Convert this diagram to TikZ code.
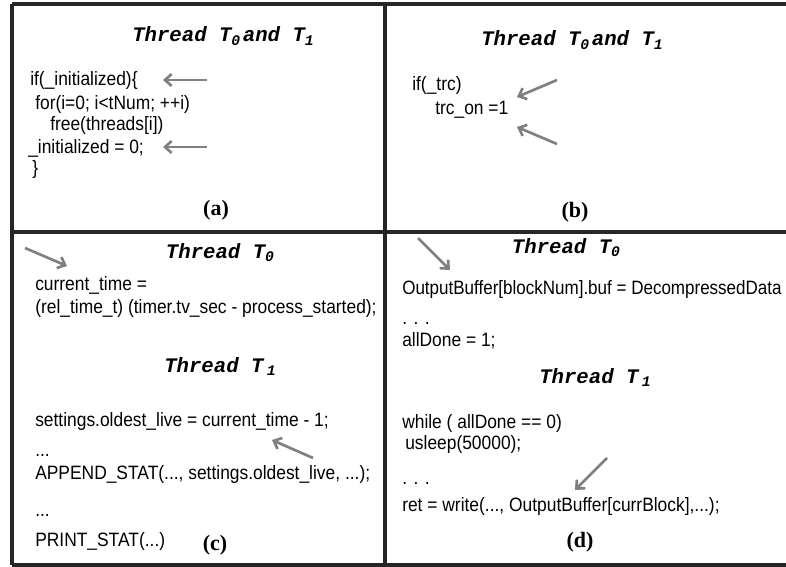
\documentclass[tikz,border=0pt]{standalone}
\usepackage{fontspec}
\setmainfont{Liberation Sans}[FakeStretch=0.9]
\newfontfamily\headfont{Liberation Mono}
\newfontfamily\labelfont{Liberation Serif}
\newfontfamily\narrowfont{Liberation Sans}[FakeStretch=0.88]
\usetikzlibrary{arrows.meta}

\newcommand{\tsub}[1]{\raisebox{-0.35ex}{\fontsize{11}{11}\selectfont #1}}

\begin{document}
\begin{tikzpicture}[x=0.75pt, y=-0.75pt,
  frame/.style={line width=2.3pt, draw=black!85},
  code/.style={anchor=base west, inner sep=0pt, font=\fontsize{14.5}{16}\selectfont},
  head/.style={anchor=base, inner sep=0pt, font=\headfont\bfseries\itshape\fontsize{15.5}{16}\selectfont},
  tag/.style={inner sep=0pt, font=\labelfont\bfseries\fontsize{16.5}{17}\selectfont},
  pointer/.style={draw=black!50, line width=2pt, -{Straight Barb[length=5pt,width=9pt]}}]
        \useasboundingbox (0,0) rectangle (786,567);
        % frame
        \draw[frame] (12,4) -- (786,4);
        \draw[frame] (12,232) -- (786,232);
        \draw[frame] (12,565) -- (786,565);
        \draw[frame] (12,4) -- (12,565);
        \draw[frame] (385,4) -- (385,565);

        % (a)
        \node[head] (ha)  at (223,42)  {Thread T\tsub{0}\hspace{2pt}and T\tsub{1}};
        \node[code] (a1)  at (30,86)   {if(\_initialized)\{};
        \node[code] (a2)  at (35,109)  {for(i=0; i<tNum; ++i)};
        \node[code] (a3)  at (50,131)  {free(threads[i])};
        \node[code] (a4)  at (28,153)  {\_initialized = 0;};
        \node[code] (a5)  at (32,174)  {\}};
        \node[tag]  (la)  at (216,210) {(a)};

        % (b)
        \node[head] (hb)  at (572,46)  {Thread T\tsub{0}\hspace{2pt}and T\tsub{1}};
        \node[code] (b1)  at (412,91)  {if(\_trc)};
        \node[code] (b2)  at (435,114) {trc\_on =1};
        \node[tag]  (lb)  at (575,212) {(b)};

        % (c)
        \node[head] (hc0) at (220,258) {Thread T\tsub{0}};
        \node[code] (c1)  at (35,290)  {current\_time =};
        \node[code] (c2)  at (35,313)  {(rel\_time\_t) (timer.tv\_sec - process\_started);};
        \node[head] (hc1) at (220,372) {Thread T\,\tsub{1}};
        \node[code] (c3)  at (35,426)  {settings.oldest\_live = current\_time - 1;};
        \node[code] (c4)  at (35,456)  {...};
        \node[code] (c5)  at (35,479)  {APPEND\_STAT(..., settings.oldest\_live, ...);};
        \node[code] (c6)  at (35,516)  {...};
        \node[code] (c7)  at (35,546)  {PRINT\_STAT(...)};
        \node[tag]  (lc)  at (215,545) {(c)};

        % (d)
        \node[head] (hd0) at (566,253) {Thread T\tsub{0}};
        \node[code] (d1)  at (402,294) {\narrowfont OutputBuffer[blockNum].buf = DecompressedData};
        \node[code] (d2)  at (402,324) {. . .};
        \node[code] (d3)  at (402,346) {allDone = 1;};
        \node[head] (hd1) at (595,383) {Thread T\,\tsub{1}};
        \node[code] (d4)  at (402,428) {while ( allDone == 0)};
        \node[code] (d5)  at (405,449) {usleep(50000);};
        \node[code] (d6)  at (402,484) {. . .};
        \node[code] (d7)  at (402,511) {ret = write(..., OutputBuffer[currBlock],...);};
        \node[tag]  (ld)  at (580,542) {(d)};

        % pointers
        \coordinate (pa1) at (207,80);  \coordinate (qa1) at (163,80);
        \coordinate (pa2) at (207,147); \coordinate (qa2) at (163,147);
        \coordinate (pb1) at (557,80);  \coordinate (qb1) at (517,97);
        \coordinate (pb2) at (557,144); \coordinate (qb2) at (517,127);
        \coordinate (pc1) at (25,248);  \coordinate (qc1) at (67,266);
        \coordinate (pc2) at (313,458); \coordinate (qc2) at (272,440);
        \coordinate (pd1) at (418,238); \coordinate (qd1) at (450,270);
        \coordinate (pd2) at (607,458); \coordinate (qd2) at (575,490);
        \path
          (pa1) edge[pointer] (qa1)
          (pa2) edge[pointer] (qa2)
          (pb1) edge[pointer] (qb1)
          (pb2) edge[pointer] (qb2)
          (pc1) edge[pointer] (qc1)
          (pc2) edge[pointer] (qc2)
          (pd1) edge[pointer] (qd1)
          (pd2) edge[pointer] (qd2)
          ;
      \end{tikzpicture}
\end{document}
